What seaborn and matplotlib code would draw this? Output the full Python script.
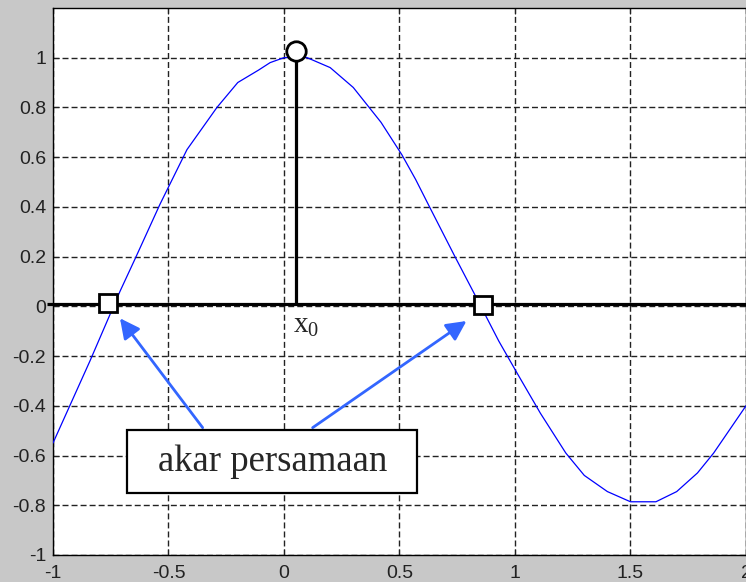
import matplotlib
matplotlib.use("Agg")
import matplotlib.pyplot as plt
import seaborn as sns
from matplotlib.patches import Rectangle

# curve (piecewise line through the visible vertices)
x_curve = [-1.0, -0.84, -0.71, -0.645, -0.537, -0.42, -0.29, -0.2, -0.11, -0.06,
           0.0, 0.1, 0.2, 0.3, 0.36, 0.42, 0.51, 0.57, 0.63, 0.74, 0.83, 0.93,
           1.01, 1.11, 1.22, 1.30, 1.40, 1.50, 1.61, 1.70, 1.79, 1.86, 2.0]
y_curve = [-0.55, -0.22, 0.06, 0.19, 0.41, 0.63, 0.80, 0.90, 0.95, 0.98,
           1.0, 1.0, 0.96, 0.88, 0.81, 0.74, 0.61, 0.51, 0.40, 0.20, 0.04, -0.14,
           -0.27, -0.43, -0.59, -0.68, -0.745, -0.786, -0.786, -0.745, -0.67, -0.59, -0.40]

# roots and starting point
roots_x = [-0.762, 0.863]
roots_y = [0.012, 0.004]
x0 = 0.052
x0_top = 1.028

x_ticks = [-1, -0.5, 0, 0.5, 1, 1.5, 2]
x_labels = ["-1", "-0.5", "0", "0.5", "1", "1.5", "2"]
y_ticks = [-1, -0.8, -0.6, -0.4, -0.2, 0, 0.2, 0.4, 0.6, 0.8, 1]
y_labels = ["-1", "-0.8", "-0.6", "-0.4", "-0.2", "0", "0.2", "0.4", "0.6", "0.8", "1"]

sns.set_theme(style="ticks")
plt.rcParams["font.family"] = ["Liberation Sans", "DejaVu Sans"]

fig = plt.figure(figsize=(7.46, 5.82), dpi=100, facecolor="#c8c8c8")
ax = fig.add_axes([0.071, 0.0464, 0.929, 0.94])
ax.set_facecolor("white")

sns.lineplot(x=x_curve, y=y_curve, ax=ax, color="#0000ff", linewidth=0.9,
             sort=False, estimator=None, zorder=3)

# x axis line and the vertical line to the start point
ax.plot([-1.026, 2.0], [0.008, 0.008], color="black", lw=2.3, zorder=4,
        clip_on=False, solid_capstyle="butt")
ax.plot([x0, x0], [0.008, x0_top - 0.03], color="black", lw=2.3, zorder=4,
        solid_capstyle="butt")
ax.plot([x0], [x0_top], marker="o", ms=14, mfc="white", mec="black",
        mew=2.0, zorder=6, clip_on=False)
ax.plot(roots_x, roots_y, ls="none", marker="s", ms=13.5, mfc="white",
        mec="black", mew=2.0, zorder=6)

ax.text(0.037, -0.025, r"$\mathregular{x_0}$", family="Liberation Serif",
        fontsize=21, ha="left", va="top", zorder=5)

# label box with arrows
ax.add_patch(Rectangle((-0.678, -0.752), 1.254, 0.255, facecolor="white",
                       edgecolor="black", lw=1.6, zorder=5))
ax.text(-0.051, -0.625, "akar persamaan", family="Liberation Serif",
        fontsize=26.5, ha="center", va="center", zorder=6)
arrow_kw = dict(arrowstyle="-|>,head_length=1.0,head_width=0.5",
                color="#3366ff", lw=2.0, shrinkA=0, shrinkB=0)
ax.annotate("", xy=(-0.71, -0.048), xytext=(-0.352, -0.488),
            arrowprops=arrow_kw, zorder=4)
ax.annotate("", xy=(0.79, -0.059), xytext=(0.124, -0.488),
            arrowprops=arrow_kw, zorder=4)

ax.set_xlim(-1, 2)
ax.set_ylim(-1, 1.2)
ax.set_xticks(x_ticks)
ax.set_xticklabels(x_labels)
ax.set_yticks(y_ticks)
ax.set_yticklabels(y_labels)
ax.grid(True, color="#222222", linestyle=(0, (4.3, 2.2)), linewidth=1.0)
ax.set_axisbelow(True)
ax.tick_params(direction="in", length=4, width=0.8, colors="#222222",
               labelsize=14, top=True, right=True)
ax.tick_params(axis="x", pad=7)
ax.tick_params(axis="y", pad=5)
for sp in ax.spines.values():
    sp.set_color("black")
    sp.set_linewidth(1.0)

fig.savefig("out.png", dpi=100, facecolor=fig.get_facecolor())
